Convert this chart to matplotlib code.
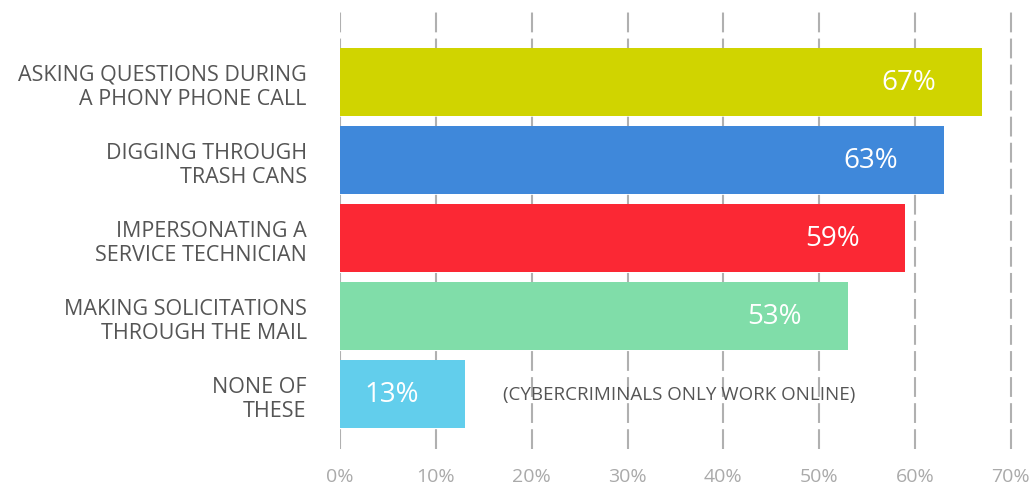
import matplotlib.pyplot as plt

categories = [
    "ASKING QUESTIONS DURING\nA PHONY PHONE CALL",
    "DIGGING THROUGH\nTRASH CANS",
    "IMPERSONATING A\nSERVICE TECHNICIAN",
    "MAKING SOLICITATIONS\nTHROUGH THE MAIL",
    "NONE OF\nTHESE",
]
values = [67, 63, 59, 53, 13]
colors = ["#d0d400", "#3f88da", "#fb2834", "#80dda9", "#62ceec"]
x_ticks = [0, 10, 20, 30, 40, 50, 60, 70]
x_tick_labels = [f"{t}%" for t in x_ticks]
note = "(CYBERCRIMINALS ONLY WORK ONLINE)"

plt.rcParams["font.family"] = ["Open Sans", "DejaVu Sans"]

fig = plt.figure(figsize=(10.31, 4.89), dpi=100)
ax = fig.add_axes([340 / 1031, 39 / 489, 691 / 1031, 440 / 489])

y = list(range(len(values)))
ax.barh(y, values, height=0.87, color=colors, zorder=2)

# value labels inside the bar ends
for yi, v in zip(y, values):
    ax.annotate(f"{v}%", (v, yi), xytext=(-33, 0), textcoords="offset points",
                ha="right", va="center", color="white", fontsize=20, zorder=3)

ax.text(17, 4, note, ha="left", va="center", color="#555555", fontsize=13.5)

ax.set_xlim(0, 72.1)
ax.set_ylim(4.7, -0.94)
ax.set_xticks(x_ticks)
ax.set_xticklabels(x_tick_labels, color="#aaaaaa", fontsize=14)
ax.set_yticks(y)
ax.set_yticklabels(categories, color="#555555", fontsize=15.5, linespacing=1.2)
ax.tick_params(axis="both", length=0)
ax.tick_params(axis="y", pad=24)
ax.tick_params(axis="x", pad=13)

for t in x_ticks:
    ax.axvline(t, color="#b0b0b0", linewidth=1.5, linestyle=(0, (9.5, 3)), zorder=1)

for s in ax.spines.values():
    s.set_visible(False)

fig.savefig("out.png", dpi=100)
